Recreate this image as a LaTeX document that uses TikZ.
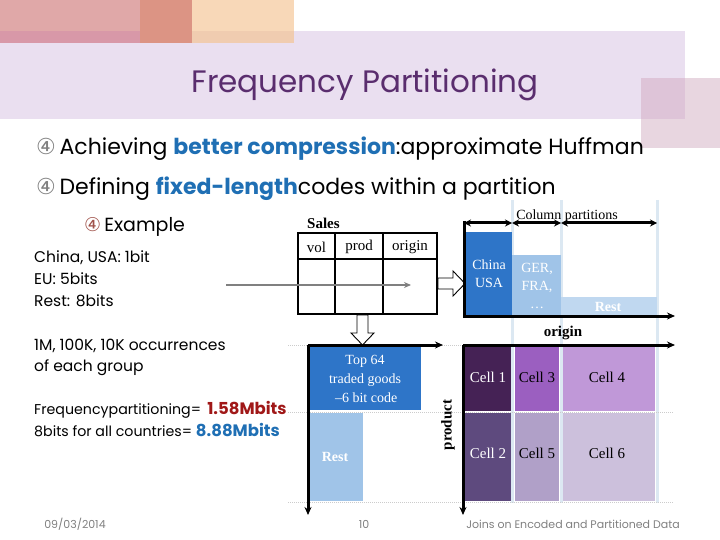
\documentclass[tikz,border=0pt]{standalone}
\usepackage{fontspec}
\setmainfont{Liberation Serif}
\newfontfamily\gothic{Poppins}
\newfontfamily\dejavu{DejaVu Sans}
\usetikzlibrary{arrows.meta}
\definecolor{lav}{HTML}{EADFF0}
\definecolor{titlec}{HTML}{5A2D6E}
\definecolor{bblue}{HTML}{1F6FB4}
\definecolor{dred}{HTML}{A01818}
\definecolor{darkb}{HTML}{2E75C8}
\definecolor{midb}{HTML}{A0C4E8}
\definecolor{lightb}{HTML}{C0D8F0}
\definecolor{gridb}{HTML}{DCE8F2}
\definecolor{cone}{HTML}{452255}
\definecolor{cthree}{HTML}{9B5FC0}
\definecolor{cfour}{HTML}{C098D8}
\definecolor{ctwo}{HTML}{5E4A7E}
\definecolor{cfive}{HTML}{B0A0C8}
\definecolor{csix}{HTML}{CCC0DC}
\definecolor{exred}{HTML}{A0524A}
\tikzset{
  txt/.style={anchor=base west, inner sep=0pt},
  body/.style={txt, font=\gothic\fontsize{22}{26}\selectfont},
  small/.style={txt, font=\gothic\fontsize{15.5}{18}\selectfont},
  smaller/.style={txt, font=\gothic\fontsize{14.2}{17}\selectfont},
  foot/.style={inner sep=0pt, anchor=base, text=gray, font=\gothic\fontsize{11}{13}\selectfont},
  axis/.style={line width=3pt, -{Stealth[length=8pt,width=7pt]}},
  dbl/.style={line width=3pt, {Stealth[length=7pt,width=7pt]}-{Stealth[length=7pt,width=7pt]}},
  grid/.style={gridb, line width=3pt},
  dotl/.style={gray!40, densely dotted, line width=1pt},
  cell/.style={inner sep=0pt, font=\fontsize{15}{17}\selectfont},
  hollow/.style={draw=black, fill=white, line width=0.9pt, line join=miter}
}
\begin{document}
\begin{tikzpicture}[x=1pt,y=-1pt]
\useasboundingbox (0,0) rectangle (720,540);
% decorations
\fill[lav] (0,31) rectangle (685,119);
\fill[fill={rgb,255:red,224;green,168;blue,168}] (0,0) rectangle (140,31);
\fill[fill={rgb,255:red,220;green,148;blue,132}] (140,0) rectangle (192,43);
\fill[fill={rgb,255:red,248;green,216;blue,184}] (192,0) rectangle (294,31);
\fill[fill={rgb,255:red,216;green,152;blue,168}] (0,31) rectangle (140,43);
\fill[fill={rgb,255:red,240;green,204;blue,176}] (192,31) rectangle (294,43);
\fill[fill={rgb,255:red,232;green,214;blue,224}] (641,78) rectangle (720,148);
\fill[fill={rgb,255:red,222;green,196;blue,216}] (641,78) rectangle (685,119);
% title
\node[inner sep=0pt, anchor=base, text=titlec, font=\gothic\fontsize{31}{35}\selectfont] (title) at (365,93) {Frequency Partitioning};
% bullets
\node[body] (b1) at (36,155) {{\dejavu\color{gray}④}\,Achieving \textcolor{bblue}{\textbf{better compression}}:approximate Huffman};
\node[body] (b2) at (36,195) {{\dejavu\color{gray}④}\,Defining \textcolor{bblue}{\textbf{fixed-length}}codes within a partition};
\node[txt, font=\gothic\fontsize{19}{22}\selectfont] (b3) at (84,231) {{\dejavu\color{exred}④}\,Example};
% left text
\node[small] (l1) at (34,262) {China, USA: 1bit};
\node[small] (l2) at (34,284) {EU: 5bits};
\node[small] (l3) at (34,306) {Rest: 8bits};
\node[small] (l4) at (34,350) {1M, 100K, 10K occurrences};
\node[small] (l5) at (34,371) {of each group};
\node[smaller] (l6) at (34,414) {Frequencypartitioning=\, \textcolor{dred}{\textbf{\fontsize{16.5}{19}\selectfont 1.58Mbits}}};
\node[smaller] (l7) at (34,436) {8bits for all countries= \textcolor{bblue}{\textbf{\fontsize{16.5}{19}\selectfont 8.88Mbits}}};
% footer
\node[foot] (date) at (75,528) {09/03/2014};
\node[foot] (page) at (364,528) {10};
\node[foot] (jt) at (573,528) {Joins on Encoded and Partitioned Data};
% grid lines
\draw[grid] (512,200) -- (512,503);
\draw[grid] (561,200) -- (561,503);
\draw[grid] (657,200) -- (657,503);
\draw[dotl] (288,345) -- (673,345);
\draw[dotl] (288,412) -- (673,412);
\draw[dotl] (288,502) -- (673,502);
% Sales table
\node[anchor=base west, inner sep=0pt, font=\bfseries\fontsize{15}{17}\selectfont] (sales) at (307,229) {Sales};
\draw[line width=1.8pt] (298,233) rectangle (437,314);
\draw[line width=1.8pt] (298,259) -- (437,259);
\draw[line width=1.8pt] (335,233) -- (335,314);
\draw[line width=1.8pt] (383,233) -- (383,314);
\node[cell] (hvol) at (316.5,247) {vol};
\node[cell] (hprod) at (359,247) {prod};
\node[cell] (horig) at (410,247) {origin};
\coordinate (gstart) at (226,285);
\coordinate (gend) at (411,285);
\draw[gray, line width=1.5pt, -{Stealth[length=7pt,width=6pt]}] (gstart) -- (gend);
% hollow arrows
\draw[hollow] (438,278) -- (453,278) -- (453,271) -- (465,283.5) -- (453,296) -- (453,289) -- (438,289) -- cycle;
\draw[hollow] (357,315) -- (368,315) -- (368,333) -- (374,333) -- (362.5,345) -- (351,333) -- (357,333) -- cycle;
% top right chart bars
\fill[darkb] (466,232) rectangle (512,316);
\fill[midb] (512,255) rectangle (561,316);
\fill[lightb] (561,297) rectangle (657,316);
\node[cell, text=white, align=center, font=\fontsize{14}{18}\selectfont] (cu) at (489,274) {China\\USA};
\node[cell, text=white, align=center, font=\fontsize{14}{18}\selectfont] (gf) at (537,286) {GER,\\FRA,\\\ldots};
\node[cell, text=white, font=\bfseries\fontsize{14}{16}\selectfont] (rest1) at (608,307) {Rest};
\coordinate (o1) at (464,221);
\coordinate (x1) at (675,316);
\draw[line width=3pt, -{Stealth[length=8pt,width=7pt]}] (o1) |- (x1);
\coordinate (p0) at (464,223);
\coordinate (p1) at (512,223);
\coordinate (p2) at (561,223);
\coordinate (p3) at (657,223);
\draw[dbl] (p0) -- (p1);
\draw[dbl] (p1) -- (p2);
\draw[dbl] (p2) -- (p3);
\node[cell, anchor=base, font=\fontsize{14}{16}\selectfont] (colp) at (567,219) {Column partitions};
\node[cell, font=\bfseries\fontsize{15}{17}\selectfont] (origin) at (563,333) {origin};
% lower left chart
\fill[darkb] (310,345) rectangle (421,410);
\fill[midb] (310,413) rectangle (363,501);
\node[cell, text=white, align=center, font=\fontsize{14}{19}\selectfont] (top64) at (365,379) {Top 64\\traded goods\\\,--6 bit code};
\node[cell, text=white, font=\bfseries\fontsize{14}{16}\selectfont] (rest2) at (335,457) {Rest};
\coordinate (o2) at (308,345);
\coordinate (x2) at (443,345);
\coordinate (y2) at (308,515);
\draw[axis] (o2) -- (x2);
\draw[axis] (o2) -- (y2);
% lower right chart
\fill[cone] (465,345) rectangle (511,411);
\fill[cthree] (515,345) rectangle (559,411);
\fill[cfour] (563,345) rectangle (655,411);
\fill[ctwo] (465,413) rectangle (511,501);
\fill[cfive] (515,413) rectangle (559,501);
\fill[csix] (563,413) rectangle (655,501);
\node[cell, text=white] (c1) at (488,377) {Cell 1};
\node[cell] (c3) at (537,377) {Cell 3};
\node[cell] (c4) at (607,377) {Cell 4};
\node[cell, text=white] (c2) at (488,453) {Cell 2};
\node[cell] (c5) at (537,453) {Cell 5};
\node[cell] (c6) at (607,453) {Cell 6};
\coordinate (o3) at (463,345);
\coordinate (x3) at (675,345);
\coordinate (y3) at (463,515);
\draw[axis] (o3) -- (x3);
\draw[axis] (o3) -- (y3);
\node[cell, rotate=90, font=\bfseries\fontsize{15}{17}\selectfont] (prod) at (448,425) {product};
\end{tikzpicture}
\end{document}
